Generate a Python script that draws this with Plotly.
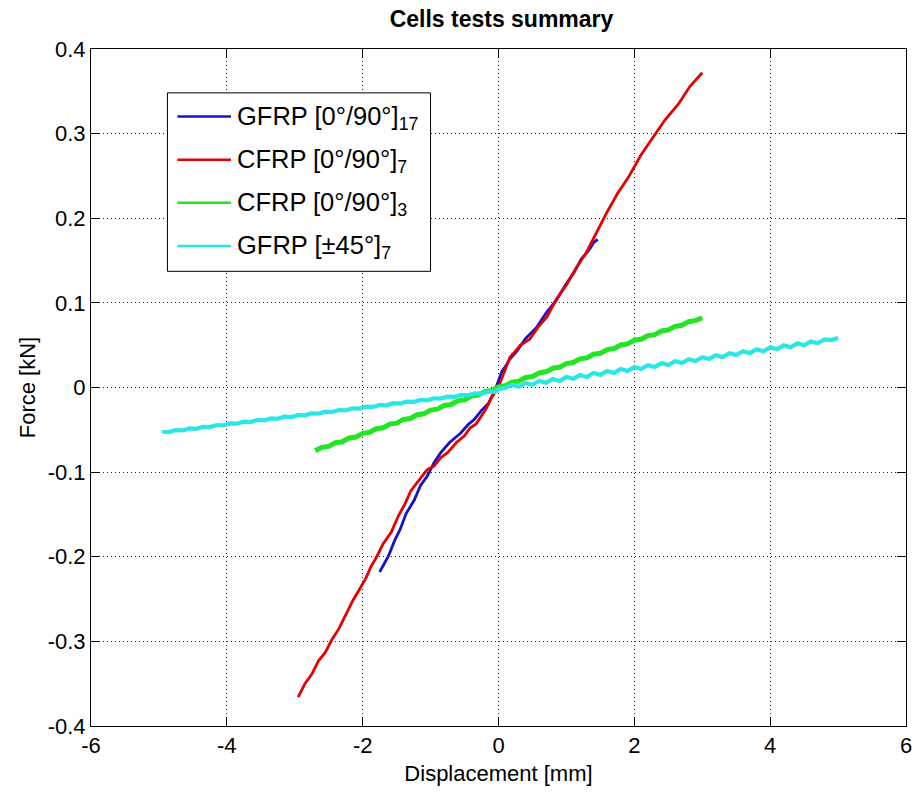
import plotly.graph_objects as go

# ---------------- data ----------------
series_names = ["GFRP [0°/90°]<sub>17</sub>", "CFRP [0°/90°]<sub>7</sub>",
                "CFRP [0°/90°]<sub>3</sub>", "GFRP [±45°]<sub>7</sub>"]
series_colors = ["#1414c4", "#e60000", "#22e622", "#2ae6e6"]

gfrp17_x = [-1.75, -1.70, -1.62, -1.53, -1.45, -1.36, -1.24, -1.15, -1.05, -0.95,
            -0.85, -0.72, -0.56, -0.45, -0.36, -0.25, -0.15, -0.06, 0.00, 0.05,
            0.12, 0.17, 0.28, 0.40, 0.56, 0.70, 0.85, 1.00, 1.12, 1.22,
            1.33, 1.40, 1.46]
gfrp17_y = [-0.218, -0.210, -0.199, -0.181, -0.168, -0.149, -0.133, -0.116, -0.105, -0.089,
            -0.077, -0.065, -0.054, -0.044, -0.038, -0.027, -0.019, -0.005, 0.008, 0.019,
            0.027, 0.034, 0.044, 0.058, 0.071, 0.088, 0.103, 0.123, 0.137, 0.152,
            0.162, 0.171, 0.175]

cfrp7_x = [-2.95, -2.85, -2.75, -2.65, -2.55, -2.46, -2.35, -2.25, -2.14, -2.05,
           -1.95, -1.88, -1.80, -1.70, -1.58, -1.47, -1.38, -1.29, -1.18, -1.05,
           -0.95, -0.85, -0.75, -0.62, -0.50, -0.42, -0.33, -0.27, -0.18, -0.10,
           -0.03, 0.03, 0.10, 0.17, 0.25, 0.32, 0.46, 0.58, 0.71, 0.85,
           1.00, 1.15, 1.29, 1.45, 1.59, 1.75, 1.91, 2.10, 2.27, 2.45,
           2.65, 2.82, 3.00]
cfrp7_y = [-0.366, -0.350, -0.339, -0.323, -0.313, -0.299, -0.285, -0.268, -0.251, -0.239,
           -0.225, -0.212, -0.201, -0.185, -0.171, -0.151, -0.138, -0.122, -0.111, -0.097,
           -0.093, -0.083, -0.077, -0.065, -0.057, -0.048, -0.043, -0.036, -0.025, -0.011,
           -0.004, 0.007, 0.021, 0.036, 0.043, 0.050, 0.057, 0.071, 0.083, 0.104,
           0.121, 0.142, 0.159, 0.185, 0.206, 0.229, 0.248, 0.275, 0.295, 0.316,
           0.335, 0.356, 0.372]

cfrp3_x = [-2.7, -2.6, -2.5, -2.4, -2.3, -2.2, -2.1, -2.0, -1.9, -1.8,
           -1.7, -1.6, -1.5, -1.4, -1.3, -1.2, -1.1, -1.0, -0.9, -0.8,
           -0.7, -0.6, -0.5, -0.4, -0.3, -0.2, -0.1, 0.0, 0.1, 0.2,
           0.3, 0.4, 0.5, 0.6, 0.7, 0.8, 0.9, 1.0, 1.1, 1.2,
           1.3, 1.4, 1.5, 1.6, 1.7, 1.8, 1.9, 2.0, 2.1, 2.2,
           2.3, 2.4, 2.5, 2.6, 2.7, 2.8, 2.9, 3.0]
cfrp3_y = [-0.0748, -0.0707, -0.0696, -0.0652, -0.0641, -0.0597, -0.0586, -0.0542, -0.0531, -0.0487,
           -0.0476, -0.0432, -0.0421, -0.0377, -0.0366, -0.0322, -0.0311, -0.0267, -0.0256, -0.0212,
           -0.0201, -0.0157, -0.0146, -0.0102, -0.0091, -0.0047, -0.0036, 0.0008, 0.0020, 0.0063,
           0.0075, 0.0118, 0.0130, 0.0173, 0.0185, 0.0228, 0.0240, 0.0283, 0.0295, 0.0338,
           0.0350, 0.0393, 0.0405, 0.0448, 0.0460, 0.0503, 0.0515, 0.0558, 0.0570, 0.0613,
           0.0625, 0.0668, 0.0680, 0.0723, 0.0735, 0.0778, 0.0790, 0.0822]

gfrp45_x = [-4.95, -4.85, -4.75, -4.65, -4.55, -4.45, -4.35, -4.25, -4.15, -4.05,
            -3.95, -3.85, -3.75, -3.65, -3.55, -3.45, -3.35, -3.25, -3.15, -3.05,
            -2.95, -2.85, -2.75, -2.65, -2.55, -2.45, -2.35, -2.25, -2.15, -2.05,
            -1.95, -1.85, -1.75, -1.65, -1.55, -1.45, -1.35, -1.25, -1.15, -1.05,
            -0.95, -0.85, -0.75, -0.65, -0.55, -0.45, -0.35, -0.25, -0.15, -0.05,
            0.0, 0.1, 0.2, 0.3, 0.4, 0.5, 0.6, 0.7, 0.8, 0.9,
            1.0, 1.1, 1.2, 1.3, 1.4, 1.5, 1.6, 1.7, 1.8, 1.9,
            2.0, 2.1, 2.2, 2.3, 2.4, 2.5, 2.6, 2.7, 2.8, 2.9,
            3.0, 3.1, 3.2, 3.3, 3.4, 3.5, 3.6, 3.7, 3.8, 3.9,
            4.0, 4.1, 4.2, 4.3, 4.4, 4.5, 4.6, 4.7, 4.8, 4.9, 5.0]
gfrp45_y = [-0.0523, -0.0527, -0.0503, -0.0507, -0.0483, -0.0488, -0.0464, -0.0468, -0.0444, -0.0448,
            -0.0424, -0.0428, -0.0404, -0.0408, -0.0384, -0.0389, -0.0365, -0.0369, -0.0345, -0.0349,
            -0.0325, -0.0329, -0.0305, -0.0309, -0.0285, -0.0290, -0.0266, -0.0270, -0.0246, -0.0250,
            -0.0226, -0.0230, -0.0206, -0.0210, -0.0186, -0.0191, -0.0167, -0.0171, -0.0147, -0.0151,
            -0.0127, -0.0131, -0.0107, -0.0111, -0.0087, -0.0092, -0.0068, -0.0072, -0.0048, -0.0052,
            -0.0020, -0.0005, 0.0030, 0.0008, 0.0054, 0.0032, 0.0077, 0.0055, 0.0101, 0.0078,
            0.0124, 0.0102, 0.0147, 0.0125, 0.0171, 0.0149, 0.0194, 0.0172, 0.0218, 0.0195,
            0.0241, 0.0219, 0.0264, 0.0242, 0.0288, 0.0266, 0.0311, 0.0289, 0.0335, 0.0312,
            0.0358, 0.0336, 0.0381, 0.0359, 0.0405, 0.0383, 0.0428, 0.0406, 0.0452, 0.0429,
            0.0475, 0.0453, 0.0498, 0.0476, 0.0522, 0.0500, 0.0545, 0.0523, 0.0569, 0.0560, 0.0585]

x_ticks = [-6, -4, -2, 0, 2, 4, 6]
x_tick_text = ["-6", "-4", "-2", "0", "2", "4", "6"]
y_ticks = [-0.4, -0.3, -0.2, -0.1, 0, 0.1, 0.2, 0.3, 0.4]
y_tick_text = ["-0.4", "-0.3", "-0.2", "-0.1", "0", "0.1", "0.2", "0.3", "0.4"]

title_text = "Cells tests summary"
x_label = "Displacement [mm]"
y_label = "Force [kN]"

# ---------------- figure ----------------
FONT = "Liberation Sans, Arial, Helvetica, sans-serif"
fig = go.Figure()

all_x = [gfrp17_x, cfrp7_x, cfrp3_x, gfrp45_x]
all_y = [gfrp17_y, cfrp7_y, cfrp3_y, gfrp45_y]
widths = [2.8, 2.8, 5.0, 4.2]
for xs, ys, name, col, w in zip(all_x, all_y, series_names, series_colors, widths):
    fig.add_trace(go.Scatter(x=xs, y=ys, mode="lines", name=name,
                             line=dict(color=col, width=w), showlegend=False))

axis_common = dict(
    showline=True, linecolor="black", linewidth=1, mirror="ticks",
    ticks="inside", ticklen=9, tickcolor="black", tickwidth=1,
    showgrid=True, gridcolor="#222222", gridwidth=1, griddash="1px,3px",
    zeroline=False, tickfont=dict(family=FONT, size=22, color="black"),
)
fig.update_xaxes(range=[-6, 6], tickvals=x_ticks, ticktext=x_tick_text,
                 title=dict(text=x_label, font=dict(family=FONT, size=22, color="black"), standoff=8),
                 **axis_common)
fig.update_yaxes(range=[-0.4, 0.4], tickvals=y_ticks, ticktext=y_tick_text,
                 title=dict(text=y_label, font=dict(family=FONT, size=22, color="black"), standoff=5),
                 **axis_common)

# manual MATLAB-style legend
lx0, lx1 = 0.0938, 0.4166
ly0, ly1 = 0.6716, 0.9352
fig.add_shape(type="rect", xref="paper", yref="paper", x0=lx0, x1=lx1, y0=ly0, y1=ly1,
              line=dict(color="black", width=1), fillcolor="white", layer="above")
row_py = [116.7, 160.0, 203.3, 246.7]
for name, col, py in zip(series_names, series_colors, row_py):
    yp = (728 - py) / 679
    fig.add_shape(type="line", xref="paper", yref="paper",
                  x0=(178 - 91) / 821, x1=(232 - 91) / 821, y0=yp, y1=yp,
                  line=dict(color=col, width=2.5), layer="above")
    fig.add_annotation(xref="paper", yref="paper", x=(236 - 91) / 821, y=yp,
                       xanchor="left", yanchor="middle", showarrow=False,
                       text=name, font=dict(family=FONT, size=25.5, color="black"),
                       yshift=-1)

fig.update_layout(
    width=922, height=792,
    margin=dict(l=91, r=10, t=49, b=64),
    paper_bgcolor="white", plot_bgcolor="white",
    title=dict(text="<b>" + title_text + "</b>", x=(501.5 / 922), xanchor="center",
               y=1 - 19 / 792, yanchor="middle",
               font=dict(family=FONT, size=23, color="black")),
)

fig.write_html("out.html")
